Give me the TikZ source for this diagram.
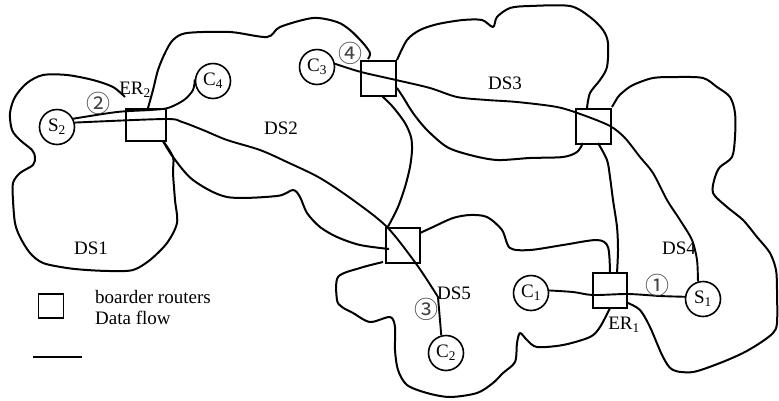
\documentclass[tikz,border=0pt]{standalone}
\usepackage{fontspec}
\setmainfont{Liberation Serif}
\newfontfamily\circfont{Noto Sans CJK SC}
\begin{document}
\begin{tikzpicture}[x=1pt,y=-1pt,
  router/.style={rectangle, draw=black, line width=2pt, minimum width=35pt, minimum height=35pt, inner sep=0pt},
  host/.style={circle, draw=black, line width=1.6pt, minimum size=35pt, inner sep=0pt, font=\fontsize{19}{21}\selectfont},
  ds/.style={line width=2pt, line join=round},
  flow/.style={line width=1.9pt, line join=round},
  lbl/.style={inner sep=0pt, font=\fontsize{19}{21}\selectfont},
  tag/.style={inner sep=0pt, text=black!75, font=\circfont\fontsize{24}{24}\selectfont}]
\useasboundingbox (0,0) rectangle (779,400);

% routers
\node [router, minimum width=40pt, minimum height=32pt] (ER2) at (146,125) {};
\node [router] (R23) at (378,78) {};
\node [router] (R34) at (593,126) {};
\node [router, minimum width=34pt] (R25) at (403,245) {};
\node [router, minimum width=34pt] (ER1) at (610,290) {};

% hosts
\node [host] (S2) at (57,127) {S\textsubscript{2}};
\node [host] (C4) at (213,81) {C\textsubscript{4}};
\node [host] (C3) at (317,67) {C\textsubscript{3}};
\node [host] (C2) at (446,353) {C\textsubscript{2}};
\node [host] (C1) at (531,293) {C\textsubscript{1}};
\node [host] (S1) at (703,299) {S\textsubscript{1}};

% DS1
\draw [ds] plot[smooth, tension=0.5] coordinates {(125,97) (113,87) (93,80) (67,75) (43,75) (27,83) (15,97) (10,113) (12,130) (20,140) (32,150) (35,157) (33,165) (20,173) (13,183) (13,200) (15,223) (20,237) (30,253) (43,263) (67,268) (87,270) (110,271) (133,270) (150,260) (167,243) (177,223) (175,200) (173,173) (173,157) (163,141)};
% DS2
\draw [ds] plot[smooth, tension=0.5] coordinates {(148,108) (153,90) (158,70) (165,53) (173,40) (187,33) (230,32) (267,37) (280,27) (313,18) (337,22) (350,30) (363,43) (370,53) (368,59)};
\draw [ds] plot[smooth, tension=0.5] coordinates {(382,96) (393,107) (405,123) (411,137) (412,150) (410,167) (405,187) (398,207) (390,223) (387,228)};
\draw [ds] plot[smooth, tension=0.5] coordinates {(163,141) (173,157) (193,180) (227,197) (277,196) (293,190) (300,197) (307,213) (320,227) (337,237) (360,245) (389,249)};
% DS3
\draw [ds] plot[smooth, tension=0.5] coordinates {(397,60) (407,40) (420,30) (438,24) (463,20) (482,20) (493,27) (497,17) (510,8) (530,6) (570,6) (590,17) (603,30) (608,43) (607,67) (600,80) (590,93) (587,108)};
\draw [ds] plot[smooth, tension=0.5] coordinates {(583,143) (577,152) (563,157) (530,158) (497,160) (470,155) (447,147) (427,130) (413,113) (403,97) (397,88)};
% DS4
\draw [ds] plot[smooth, tension=0.5] coordinates {(612,107) (618,97) (623,92) (633,85) (653,78) (677,77) (703,78) (717,87) (730,97) (735,113) (735,137) (732,157) (720,167) (715,177) (713,193) (727,207) (743,220) (757,237) (770,253) (776,270) (777,290) (777,323) (773,333) (760,343) (743,353) (720,363) (693,372) (673,370) (663,357) (650,327) (640,310) (628,303)};
\draw [ds] plot[smooth, tension=0.5] coordinates {(598,143) (607,160) (610,177) (613,200) (617,227) (618,250) (617,273)};
% DS5
\draw [ds] plot[smooth, tension=0.5] coordinates {(420,233) (433,227) (453,218) (470,215) (487,217) (502,230) (510,248) (530,250) (563,245) (597,240) (608,247) (610,273)};
\draw [ds] plot[smooth, tension=0.5] coordinates {(610,308) (600,327) (590,337) (563,345) (537,347) (527,340) (520,333) (517,343) (515,362) (503,373) (493,383) (477,393) (450,397) (427,393) (407,385) (398,370) (395,350) (395,327) (390,317) (370,322) (353,313) (342,307) (337,300) (338,277) (360,268) (383,262)};

% data flows
\draw [flow] plot[smooth, tension=0.5] coordinates {(S2.27) (117,112) (150,110) (168,108) (184,100) (193,90) (C4.175)};
\draw [flow] plot[smooth, tension=0.5] coordinates {(S2.14) (165,119) (182,122) (203,130) (227,140) (260,150) (287,162) (320,178) (353,200) (387,227) (417,265) (438,297)} -- (C2.105);
\draw [flow] plot[smooth, tension=0.5] coordinates {(C3.10) (361,72) (396,80) (430,88) (457,97) (487,100) (517,102) (557,107) (583,115) (610,126) (625,138) (640,157) (653,173) (667,200) (680,220) (692,240) (697,260) (S1.106)};
\draw [flow] plot[smooth, tension=0.5] coordinates {(C1.8) (573,292) (593,295) (628,294) (660,296) (S1.173)};

% labels
\node [lbl] (ds1) at (91,248) {DS1};
\node [lbl] (ds2) at (281,128) {DS2};
\node [lbl] (ds3) at (505,83) {DS3};
\node [lbl] (ds4) at (679,248) {DS4};
\node [lbl] (ds5) at (454,293) {DS5};
\node [lbl] (er2) at (135,90) {ER\textsubscript{2}};
\node [lbl] (er1) at (624,325) {ER\textsubscript{1}};
\node [tag] (n1) at (657,285) {①};
\node [tag] (n2) at (98,103) {②};
\node [tag] (n3) at (426,309) {③};
\node [tag] (n4) at (350,53) {④};

% key
\node [router, minimum width=25pt, minimum height=24pt, line width=1.6pt] (key) at (51,306) {};
\node [lbl, anchor=west] (keyr) at (95,297) {boarder routers};
\node [lbl, anchor=west] (keyf) at (95,318) {Data flow};
\coordinate (fa) at (33,357);
\coordinate (fb) at (82,357);
\draw [flow] (fa) -- (fb);
\end{tikzpicture}
\end{document}
